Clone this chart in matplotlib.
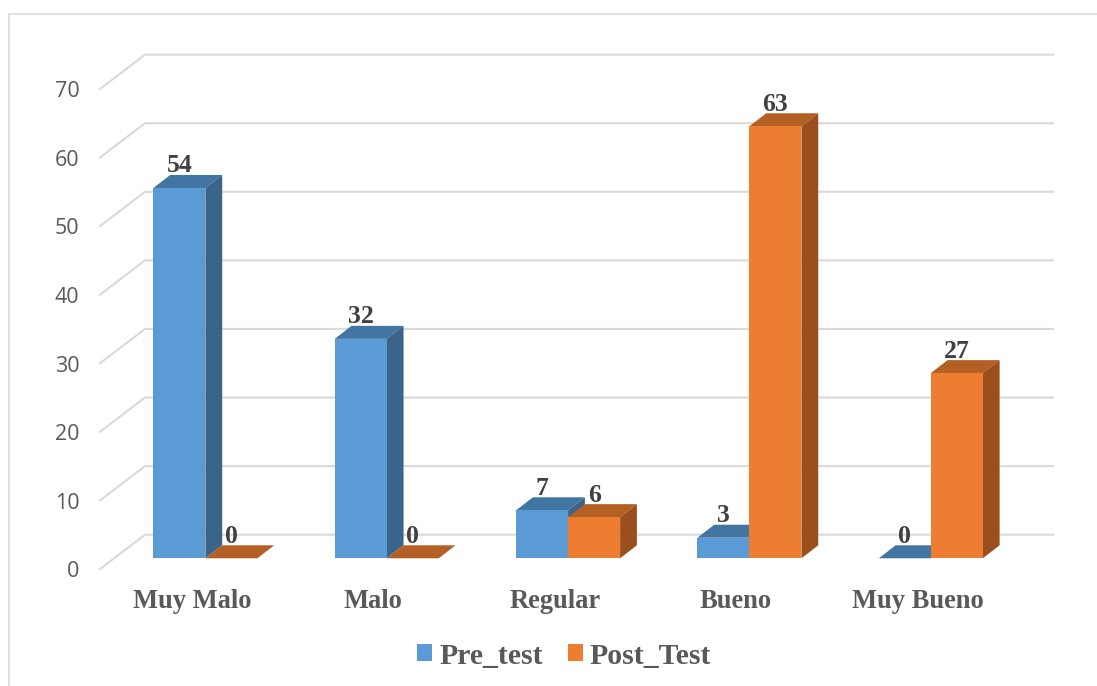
import matplotlib
matplotlib.use("Agg")
import matplotlib.pyplot as plt
from matplotlib.lines import Line2D
from matplotlib.patches import Patch, Polygon

categories = ["Muy Malo", "Malo", "Regular", "Bueno", "Muy Bueno"]
series_names = ["Pre_test", "Post_Test"]
pre_test = [54, 32, 7, 3, 0]
post_test = [0, 0, 6, 63, 27]
y_ticks = [0, 10, 20, 30, 40, 50, 60, 70]

W, H = 1097, 686
GROUP_X0, GROUP_STEP = 205.4, 181.35   # px position of the first group, px between groups
BASE_Y, UNIT_PX = 558.3, 6.858         # px of value 0 on the bar plane, px per unit
BAR_W = 52.0 / GROUP_STEP
DEPTH_X, DEPTH_Y = 16.8 / GROUP_STEP, 13.0 / UNIT_PX

BLUE = ("#5B9BD5", "#4275A2", "#3A6489")
ORANGE = ("#ED7D31", "#B45F24", "#9A4F1C")
GRID = "#D9D9D9"
SERIF = "Liberation Serif"

fig = plt.figure(figsize=(W / 100, H / 100), dpi=100)
ax = fig.add_axes([0, 0, 1, 1])
ax.set_xlim(-GROUP_X0 / GROUP_STEP, (W - GROUP_X0) / GROUP_STEP)
ax.set_ylim(-(H - BASE_Y) / UNIT_PX, BASE_Y / UNIT_PX)
ax.axis("off")


def px_x(px):
    return (px - GROUP_X0) / GROUP_STEP


def px_dy(px):
    return px / UNIT_PX


# Outer chart frame: left and top edges only
frame_x = [8.5 / W, 8.5 / W, 1.0]
frame_y = [0.0, 1 - 13.5 / H, 1 - 13.5 / H]
fig.add_artist(Line2D(frame_x, frame_y, color=GRID, lw=1.1))

# Back wall gridlines and the left wall diagonals, with the value scale
for tick in y_ticks:
    back = tick + px_dy(23.6)
    front = tick - px_dy(10.7)
    ax.plot([px_x(100), px_x(145), px_x(1053)], [front, back, back],
            color=GRID, lw=1.5, solid_joinstyle="miter", zorder=1)
    ax.text(px_x(79.5), tick - px_dy(13.5), str(tick), ha="right", va="center",
            family="Open Sans", fontsize=15.5, color="#595959")


def draw_bar(x_left, value, colors, order):
    front, top, side = colors
    x_right = x_left + BAR_W
    ax.add_patch(Polygon(
        [(x_left, value), (x_right, value),
         (x_right + DEPTH_X, value + DEPTH_Y), (x_left + DEPTH_X, value + DEPTH_Y)],
        facecolor=top, edgecolor="none", zorder=order))
    ax.add_patch(Polygon(
        [(x_right, 0), (x_right + DEPTH_X, DEPTH_Y),
         (x_right + DEPTH_X, value + DEPTH_Y), (x_right, value)],
        facecolor=side, edgecolor="none", zorder=order))
    if value > 0:
        ax.bar(x_left, value, width=BAR_W, align="edge", color=front,
               edgecolor="none", zorder=order + 0.5)


for i in range(len(categories)):
    draw_bar(i - BAR_W, pre_test[i], BLUE, 2 + 2 * i)
    draw_bar(i, post_test[i], ORANGE, 3 + 2 * i)

    for x_left, value in ((i - BAR_W, pre_test[i]), (i, post_test[i])):
        ax.text(x_left + BAR_W / 2 + px_x(GROUP_X0), value + DEPTH_Y + px_dy(2.5),
                str(value), ha="center", va="baseline", family=SERIF,
                weight="bold", fontsize=18.5, color="#404040", zorder=30)

    ax.text(i + px_x(GROUP_X0 - 13.4), -px_dy(49.7), categories[i], ha="center",
            va="baseline", family=SERIF, weight="bold", fontsize=19.1,
            color="#595959", zorder=30)

handles = [Patch(facecolor=BLUE[0]), Patch(facecolor=ORANGE[0])]
ax.legend(handles, series_names, loc="center", ncol=2, frameon=False,
          bbox_to_anchor=(564 / W, 1 - 656 / H),
          prop={"family": SERIF, "weight": "bold", "size": 21.4},
          labelcolor="#595959", handlelength=0.505, handleheight=0.505,
          handletextpad=0.22, columnspacing=0.84)

fig.savefig("out.png", dpi=100)
